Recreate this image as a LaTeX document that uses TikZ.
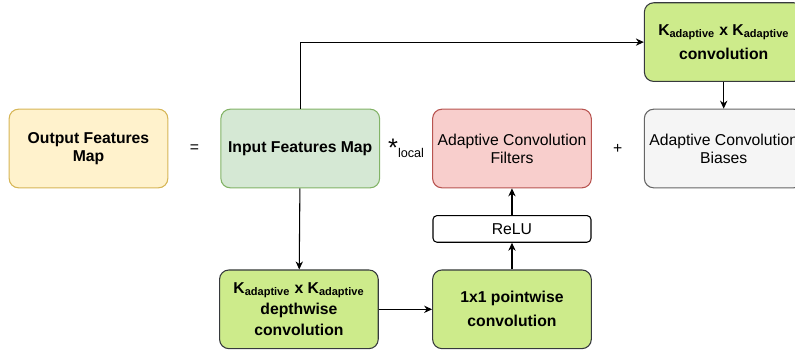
\documentclass[tikz,border=0pt]{standalone}
\usepackage{fontspec}
\setmainfont{Liberation Sans}
\usetikzlibrary{positioning, arrows.meta, calc}

\definecolor{outfill}{HTML}{FFF2CC}
\definecolor{outdraw}{HTML}{D6B656}
\definecolor{infill}{HTML}{D5E8D4}
\definecolor{indraw}{HTML}{82B366}
\definecolor{filtfill}{HTML}{F8CECC}
\definecolor{filtdraw}{HTML}{B85450}
\definecolor{biasfill}{HTML}{F5F5F5}
\definecolor{biasdraw}{HTML}{666666}
\definecolor{convfill}{HTML}{CDEB8B}
\definecolor{convdraw}{HTML}{36393D}

\newcommand{\Kad}{K\textsubscript{adaptive}}

\tikzset{
    >={Stealth[length=6pt, width=5.5pt]}, % filled arrow heads
    x=0.75pt, y=-0.75pt, % coordinates are given in pixels, y downwards
    node distance=39pt, % gap between the boxes of the main row
    box/.style={rectangle, rounded corners=7pt, draw, line width=0.8pt,
        minimum width=119pt, minimum height=59pt, align=center,
        font=\fontsize{11.8}{13.5}\selectfont}, % every block
    convbox/.style={box, fill=convfill, draw=convdraw, font=\fontsize{11.8}{18}\selectfont\bfseries},
    relubox/.style={rectangle, rounded corners=3pt, draw, line width=0.8pt,
        minimum width=118.5pt, minimum height=20pt, inner sep=0pt,
        font=\fontsize{11.8}{13.5}\selectfont},
    op/.style={font=\fontsize{11.8}{13.5}\selectfont}, % the = * + signs
    line/.style={->, line width=0.8pt},
}

\begin{document}
\begin{tikzpicture}
    \useasboundingbox (0,0) rectangle (795,351);

    % main row
    \node[box, fill=outfill, draw=outdraw, font=\fontsize{11.8}{13.5}\selectfont\bfseries] (output) at (88.5,148.5) {Output Features\\Map};
    \node[box, fill=infill, draw=indraw, font=\fontsize{11.8}{13.5}\selectfont\bfseries, right=of output] (input) {Input Features Map};
    \node[box, fill=filtfill, draw=filtdraw, right=of input] (filters) {Adaptive Convolution\\Filters};
    \node[box, fill=biasfill, draw=biasdraw, right=of filters] (biases) {Adaptive Convolution\\Biases};

    % the signs between the boxes
    \node[op] (equals) at ($(output.east)!0.5!(input.west)$) {=};
    \node[op, inner sep=0pt] (localconv) at ($(input.east)!0.5!(filters.west)$) {\raisebox{-3pt}{\fontsize{19}{19}\selectfont *}\raisebox{-3.5pt}{\fontsize{9.5}{10}\selectfont local}};
    \node[op] (plus) at ($(filters.east)!0.5!(biases.west)$) {+};

    % convolution branches
    \node[convbox, above=20pt of biases] (adconv) {\Kad{} x \Kad\\convolution};
    \node[relubox, below=20pt of filters] (relu) {ReLU};
    \node[convbox, below=20pt of relu] (pointwise) {1x1 pointwise\\convolution};
    \node[convbox, left=40pt of pointwise, font=\fontsize{11.8}{16}\selectfont\bfseries] (depthwise) {\Kad{} x \Kad\\depthwise\\convolution};

    \draw[line] (input.north) |- (adconv.west);
    \draw[line] (adconv) -- (biases);
    \draw[line] (input) -- (depthwise);
    \draw[line] (depthwise) -- (pointwise);
    \draw[line] (pointwise) -- (relu);
    \draw[line] (relu) -- (filters);
\end{tikzpicture}
\end{document}
